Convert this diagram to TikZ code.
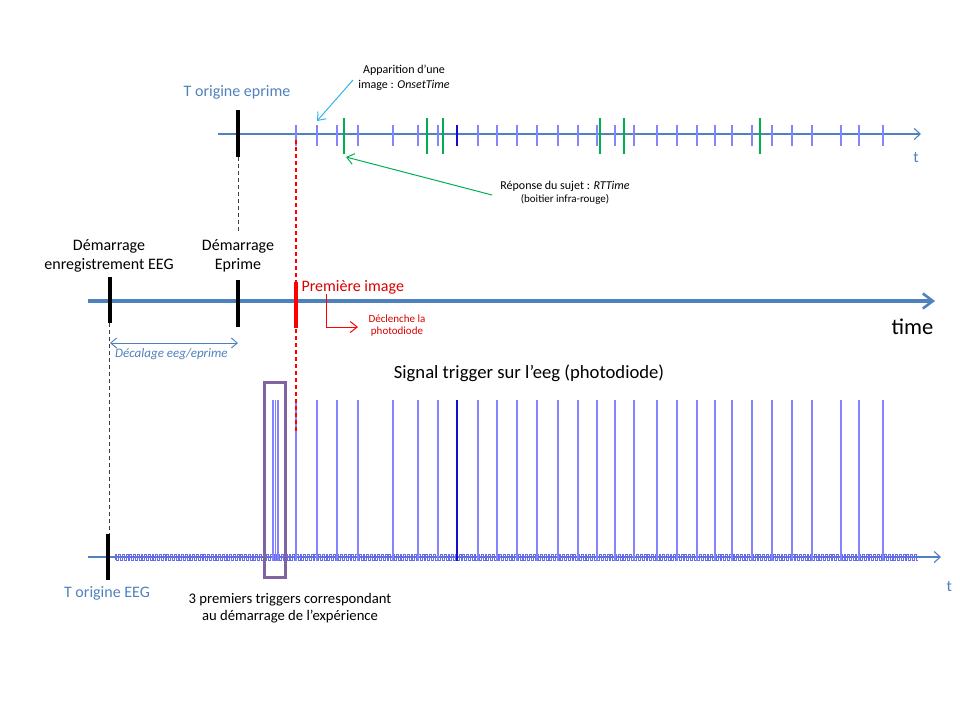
\documentclass[tikz,border=0pt]{standalone}
\usepackage{fontspec}
\setmainfont{Carlito}
\usetikzlibrary{arrows.meta}
\definecolor{axblue}{HTML}{4F81BD}
\definecolor{tickblue}{HTML}{8484FF}
\definecolor{darktick}{HTML}{1010C8}
\definecolor{noiseblue}{HTML}{6A6AF0}
\definecolor{grn}{HTML}{00B050}
\definecolor{skyb}{HTML}{33B5E8}
\definecolor{pur}{HTML}{8064A2}
\definecolor{redtxt}{HTML}{D80000}
\definecolor{redln}{HTML}{FF0000}
\definecolor{dgray}{HTML}{404040}
\begin{document}
\begin{tikzpicture}[x=1pt,y=-1pt,
  every node/.style={inner sep=0pt, anchor=base},
  lbl/.style={font=\fontsize{16}{19}\selectfont},
  lblb/.style={font=\fontsize{14.67}{17}\selectfont},
  sm/.style={font=\fontsize{12}{14}\selectfont},
  xs/.style={font=\fontsize{11}{13}\selectfont},
  bluelbl/.style={lbl, text=axblue},
  thinax/.style={axblue, line width=1.3pt, -{Straight Barb[length=6pt,width=11pt,line width=1.1pt]}},
  tk/.style={tickblue, line width=1.5pt},
  tkdark/.style={darktick, line width=1.2pt},
  gtk/.style={grn, line width=1.3pt},
  blk/.style={black, line width=3.8pt},
  dashg/.style={dgray, line width=1pt, dash pattern=on 4pt off 3pt},
  barb/.style={-{Straight Barb[length=7pt,width=11pt]}},
]
\useasboundingbox (0,0) rectangle (960,720);

% ---------- top axis (Eprime) ----------
\coordinate (topS) at (218,134);
\coordinate (topE) at (921,134);
\draw[thinax] (topS) -- (topE);
\foreach \x in {296,317,337,358,393,418,438,478,497,517,537,558,578,597,615,634,657,677,697,715,732,752,772,792,812,841,859,883}
  \draw[tk] (\x,125) -- (\x,146);
\draw[tkdark] (457,125) -- (457,146);
\foreach \x in {344,427,443,600,624,760}
  \draw[gtk] (\x,118) -- (\x,154);
\draw[blk] (238,110) -- (238,157);
\draw[dashg] (238,157) -- (238,232);
\node[text=axblue, font=\fontsize{16}{19}\selectfont] (tTop) at (916,162.3) {t};
\node[bluelbl] (origE) at (237,96) {T origine eprime};

\node[sm] (app1) at (404,73) {Apparition d’une};
\node[sm] (app2) at (404,88) {image : \textit{OnsetTime}};
\coordinate (skyS) at (353,80);
\coordinate (skyT) at (317,121);
\draw[skyb, line width=1pt, barb] (skyS) -- (skyT);

\node[sm] (rep1) at (565,189) {Réponse du sujet : \textit{RTTime}};
\node[xs] (rep2) at (565,202.7) {(boitier infra-rouge)};
\coordinate (grS) at (492,195);
\coordinate (grT) at (346,157);
\draw[grn, line width=1pt, barb] (grS) -- (grT);

% ---------- middle axis (time) ----------
\coordinate (midS) at (88,301);
\coordinate (midE) at (935,301);
\draw[axblue, line width=4pt, -{Straight Barb[length=10pt,width=15pt,line width=2.6pt]}] (midS) -- (midE);
\draw[blk] (110,277) -- (110,323);
\draw[blk] (238,280) -- (238,327);
\node[font=\fontsize{22.5}{26}\selectfont] (time) at (912.5,334) {time};

\node[lbl] (dem1) at (109,250.7) {Démarrage};
\node[lbl] (dem2) at (109,269.3) {enregistrement EEG};
\node[lbl] (dep1) at (238,250.7) {Démarrage};
\node[lbl] (dep2) at (238,269.3) {Eprime};

\node[lbl, text=redtxt, anchor=base west] (prem) at (301.3,291) {Première image};
\coordinate (rS) at (326,294);
\coordinate (rC) at (326,327);
\coordinate (rT) at (358,327);
\draw[redln, line width=1pt, barb] (rS) -- (rC) -- (rT);
\node[xs, text=redtxt] (decl1) at (397,322.3) {Déclenche la};
\node[xs, text=redtxt] (decl2) at (397,334) {photodiode};

\coordinate (dA) at (110,343);
\coordinate (dB) at (238,343);
\draw[axblue, line width=0.9pt, {Straight Barb[length=6pt,width=10pt]}-{Straight Barb[length=6pt,width=10pt]}] (dA) -- (dB);
\node[font=\fontsize{13}{15}\selectfont\itshape, text=axblue, anchor=base west] (decal) at (115,357) {Décalage eeg/eprime};

\draw[dashg] (109.5,323) -- (109.5,534);

% ---------- bottom signal ----------
\node[font=\fontsize{18.67}{22}\selectfont] (sig) at (529,378.3) {Signal trigger sur l’eeg (photodiode)};
\coordinate (botS) at (88,557);
\coordinate (botE) at (941,557);
\draw[thinax] (botS) -- (botE);
\draw[noiseblue, line width=0.8pt] (115,560) \foreach \i in {1,...,217}{ -- ++(0,-6) -- ++(1.85,0) -- ++(0,6) -- ++(1.85,0)};
\foreach \x in {273,275.4,277.8,296,317,337,358,393,418,438,478,497,517,537,558,578,597,615,634,657,677,697,715,732,752,772,792,812,841,859,883}
  \draw[tk] (\x,400) -- (\x,561);
\draw[tkdark] (457,400) -- (457,561);
\draw[blk] (108,534) -- (108,580);
\draw[pur, line width=3pt] (264.5,382) rectangle (285.3,577);

% ---------- red line and tick (on top) ----------
\draw[redln, line width=1.3pt, dash pattern=on 4pt off 3pt] (296,140) -- (296,432);
\draw[redln, line width=4pt] (296,282) -- (296,328);

\node[text=axblue, font=\fontsize{16}{19}\selectfont] (tBot) at (949.3,591.7) {t};
\node[bluelbl] (origEEG) at (107,597.7) {T origine EEG};
\node[lblb] (trig1) at (290,603.3) {3 premiers triggers correspondant};
\node[lblb] (trig2) at (290,620) {au démarrage de l’expérience};
\end{tikzpicture}
\end{document}
